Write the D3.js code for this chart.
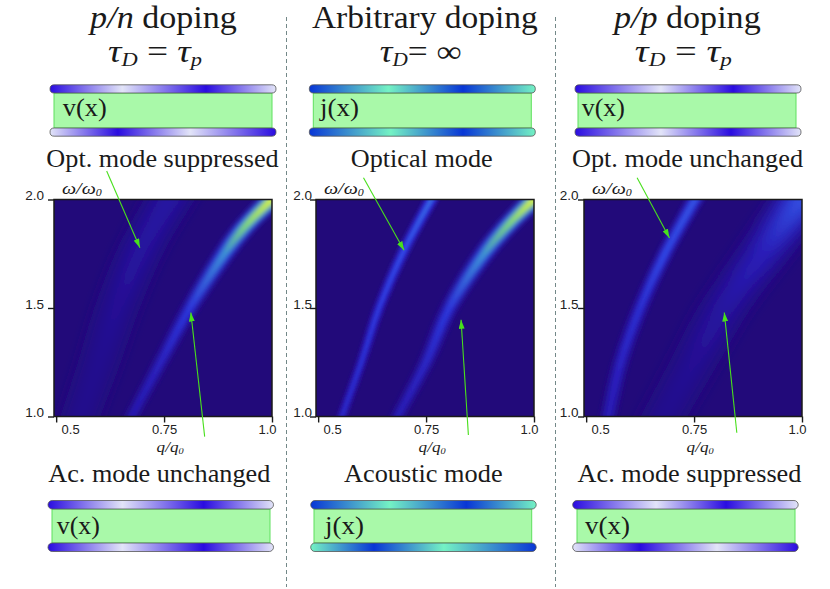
<!DOCTYPE html>
<html>
<head>
<meta charset="utf-8">
<script src="https://cdn.jsdelivr.net/npm/d3@7"></script>
<style>
  body { margin: 0; background: #fff; }
  svg { display: block; }
</style>
</head>
<body>
<div id="chart"></div>
<script>
// ---- values ----
const qTicks = [0.5, 0.75, 1.0];
const qTickLabels = ["0.5", "0.75", "1.0"];
const wTicks = [1.0, 1.5, 2.0];
const wTickLabels = ["1.0", "1.5", "2.0"];

// ridge of each branch: [q/q0, w/w0, peak intensity (0..1), half width in q/q0]
const pnOptical = [[0.556, 1.0, 0.07, 0.03], [0.60, 1.25, 0.08, 0.032], [0.641, 1.5, 0.1, 0.034], [0.697, 1.77, 0.14, 0.036], [0.762, 2.0, 0.15, 0.038]];
const pnAcoustic = [[0.675, 1.0, 0.22, 0.011], [0.742, 1.25, 0.28, 0.012], [0.81, 1.5, 0.38, 0.014], [0.89, 1.75, 0.6, 0.017], [0.94, 1.88, 0.82, 0.019], [1.0, 2.0, 1.0, 0.021]];
const arbOptical = [[0.555, 1.0, 0.28, 0.009], [0.60, 1.25, 0.32, 0.009], [0.641, 1.5, 0.36, 0.01], [0.70, 1.77, 0.42, 0.011], [0.762, 2.0, 0.48, 0.012]];
const arbAcoustic = [[0.684, 1.0, 0.24, 0.011], [0.75, 1.25, 0.3, 0.012], [0.804, 1.5, 0.38, 0.014], [0.881, 1.74, 0.6, 0.017], [0.944, 1.89, 0.82, 0.019], [1.0, 2.0, 1.0, 0.021]];
const ppOptical = [[0.551, 1.0, 0.22, 0.013], [0.58, 1.25, 0.27, 0.013], [0.625, 1.5, 0.33, 0.013], [0.68, 1.74, 0.42, 0.013], [0.752, 2.0, 0.45, 0.014]];
const ppAcoustic = [[0.68, 1.0, 0.08, 0.035], [0.75, 1.25, 0.1, 0.037], [0.82, 1.5, 0.15, 0.04], [0.91, 1.75, 0.24, 0.043], [1.0, 2.0, 0.45, 0.045]];

// arrows: [tail q, tail w, tip q, tip w]
const upperArrows = [[0.617, 2.131, 0.694, 1.778], [0.605, 2.100, 0.699, 1.766], [0.618, 2.100, 0.693, 1.823]];
const lowerArrows = [[0.844, 0.907, 0.812, 1.479], [0.848, 0.915, 0.831, 1.446], [0.849, 0.925, 0.820, 1.479]];

const titleLine1 = [
  [{ t: "p/n", it: true }, { t: " doping" }],
  [{ t: "Arbitrary doping" }],
  [{ t: "p/p", it: true }, { t: " doping" }],
];
const titleLine2 = [
  [{ t: "τ", it: true }, { t: "D", sub: true }, { t: " = " }, { t: "τ", it: true }, { t: "p", sub: true }],
  [{ t: "τ", it: true }, { t: "D", sub: true }, { t: "= ∞" }],
  [{ t: "τ", it: true }, { t: "D", sub: true }, { t: " = " }, { t: "τ", it: true }, { t: "p", sub: true }],
];
const topModeLabels = ["Opt. mode suppressed", "Optical mode", "Opt. mode unchanged"];
const bottomModeLabels = ["Ac. mode unchanged", "Acoustic mode", "Ac. mode suppressed"];
const barLabels = ["v(x)", "j(x)", "v(x)"];

// plate modulation profiles: [position along plate, darkness]
const topBarPlates = [
  { upper: [[0, 1], [0.32, 0], [0.69, 1], [1, 0]], lower: [[0, 0], [0.30, 1], [0.62, 0], [1, 1]] },
  { upper: [[0, 1], [0.35, 0], [0.68, 1], [1, 0]], lower: [[0, 1], [0.36, 0], [0.68, 1], [1, 0]] },
  { upper: [[0, 1], [0.38, 0], [0.70, 1], [1, 0]], lower: [[0, 1], [0.38, 0], [0.69, 1], [1, 0]] },
];
const bottomBarPlates = [
  { upper: [[0, 1], [0.33, 0], [0.69, 1], [1, 0]], lower: [[0, 1], [0.33, 0], [0.69, 1], [1, 0]] },
  { upper: [[0, 1], [0.35, 0], [0.69, 1], [1, 0]], lower: [[0, 0], [0.28, 1], [0.59, 0], [1, 1]] },
  { upper: [[0, 1], [0.37, 0], [0.68, 1], [1, 0]], lower: [[0, 0], [0.30, 1], [0.64, 0], [1, 1]] },
];

// ---- layout ----
const width = 830, height = 589;
const serif = "Liberation Serif, Times New Roman, Times, serif";
const sans = "Liberation Sans, Arial, Helvetica, sans-serif";
const plotW = 218, plotTop = 199.5, plotBottom = 416.5;
const panels = [
  { x0: 54, bands: [pnOptical, pnAcoustic], yLabelGap: 10, plateFamily: "v",
    title: { cx: 163.5, w1: 149, cx2: 155, w2: 94 }, topMode: { cx: 162.5, w: 233 }, botMode: { cx: 159.3, w: 222.7 },
    topBar: { px: 50, pw: 226, gx: 54, gw: 218, lx: 62.7, lw: 44 }, botBar: { px: 48, pw: 225.5, gx: 52, gw: 218, lx: 56.7, lw: 43.3 } },
  { x0: 316, bands: [arbOptical, arbAcoustic], yLabelGap: 4, plateFamily: "j",
    title: { cx: 424.8, w1: 226, cx2: 420.8, w2: 82 }, topMode: { cx: 421.7, w: 142 }, botMode: { cx: 423.3, w: 158.7 },
    topBar: { px: 309.3, pw: 226, gx: 313.3, gw: 218, lx: 320, lw: 40 }, botBar: { px: 310.7, pw: 225.5, gx: 314, gw: 217.7, lx: 325, lw: 40 } },
  { x0: 584, bands: [ppAcoustic, ppOptical], yLabelGap: 5.5, plateFamily: "v",
    title: { cx: 687.3, w1: 149, cx2: 683.3, w2: 97 }, topMode: { cx: 687.5, w: 231.6 }, botMode: { cx: 689.5, w: 224.4 },
    topBar: { px: 575, pw: 226, gx: 578, gw: 218, lx: 581.7, lw: 43.3 }, botBar: { px: 572.7, pw: 225.5, gx: 577, gw: 218, lx: 585, lw: 45 } },
];
const qTickDx = [14, 0, -5];

const color = d3.scaleLinear()
  .domain([0, 0.2, 0.4, 0.6, 0.8, 1])
  .range(["#220a7a", "#2817b2", "#3042ea", "#3f9ed2", "#7fe064", "#eef821"])
  .clamp(true);

const plateColors = {
  v: d3.interpolateRgb("#e2e4f8", "#2a0ce0"),
  j: d3.interpolateRgb("#74f2c4", "#0836d6"),
};

const svg = d3.select("#chart").append("svg")
  .attr("width", width).attr("height", height)
  .attr("viewBox", [0, 0, width, height]);
const defs = svg.append("defs");

defs.append("marker")
  .attr("id", "arrowHead")
  .attr("markerUnits", "userSpaceOnUse")
  .attr("viewBox", "0 0 9 6")
  .attr("markerWidth", 9).attr("markerHeight", 6)
  .attr("refX", 9).attr("refY", 3)
  .attr("orient", "auto")
  .append("path").attr("d", "M0,0L9,3L0,6Z").attr("fill", "#48e01c");

function fitText(textSel, targetWidth) {
  const w = textSel.node().getBBox().width;
  textSel.attr("transform", `scale(${targetWidth / w},1)`);
}

function placeText(x, baseline, pieces, size, anchor, targetWidth) {
  const g = svg.append("g").attr("transform", `translate(${x},${baseline})`);
  const text = g.append("text")
    .attr("text-anchor", anchor)
    .attr("font-family", serif)
    .attr("font-size", size)
    .attr("fill", "#1a1a1a");
  let shifted = false;
  pieces.forEach((p) => {
    const ts = text.append("tspan").text(p.t);
    if (p.it) ts.attr("font-style", "italic");
    if (p.sub) {
      ts.attr("font-style", "italic").attr("font-size", size * 0.6).attr("dy", size * 0.15);
      shifted = true;
    } else if (shifted) {
      ts.attr("dy", -size * 0.15);
      shifted = false;
    }
  });
  fitText(text, targetWidth);
  return text;
}

function extendRidge(pts) {
  const a = pts[0], b = pts[1];
  const c = pts[pts.length - 1], d = pts[pts.length - 2];
  const ka = 0.08 / (b[1] - a[1]);
  const kc = 0.08 / (c[1] - d[1]);
  return [
    [a[0] - (b[0] - a[0]) * ka, a[1] - 0.08, a[2], a[3]],
    ...pts,
    [c[0] + (c[0] - d[0]) * kc, c[1] + 0.08, c[2], c[3]],
  ];
}

const bandLayers = [{ f: 0.3, s: 1.55 }, { f: 0.55, s: 1.1 }, { f: 0.8, s: 0.68 }, { f: 1.0, s: 0.35 }];

function drawBand(g, pts, x, y, id) {
  const ridge = extendRidge(pts);
  const y1 = y(ridge[0][1]), y2 = y(ridge[ridge.length - 1][1]);
  const pxPerQ = x(1) - x(0);
  const meanHw = d3.mean(pts, (p) => p[3]) * pxPerQ;

  defs.append("filter")
    .attr("id", `${id}-blur`)
    .attr("filterUnits", "userSpaceOnUse")
    .attr("x", x.range()[0] - 60).attr("y", plotTop - 60)
    .attr("width", plotW + 120).attr("height", plotBottom - plotTop + 120)
    .append("feGaussianBlur").attr("stdDeviation", Math.max(1.3, meanHw * 0.38));

  const band = g.append("g").attr("filter", `url(#${id}-blur)`);
  bandLayers.forEach((layer, li) => {
    const gid = `${id}-grad${li}`;
    const grad = defs.append("linearGradient")
      .attr("id", gid)
      .attr("gradientUnits", "userSpaceOnUse")
      .attr("x1", 0).attr("x2", 0).attr("y1", y1).attr("y2", y2);
    ridge.forEach((p) => grad.append("stop")
      .attr("offset", (y(p[1]) - y1) / (y2 - y1))
      .attr("stop-color", color(p[2] * layer.f)));

    const area = d3.area()
      .curve(d3.curveCatmullRom)
      .y((p) => y(p[1]))
      .x0((p) => x(p[0] - p[3] * layer.s))
      .x1((p) => x(p[0] + p[3] * layer.s));
    band.append("path").attr("d", area(ridge)).attr("fill", `url(#${gid})`);
  });
}

function drawPlate(x, yTop, w, h, profile, family, id) {
  const grad = defs.append("linearGradient").attr("id", id);
  profile.forEach((s) => grad.append("stop")
    .attr("offset", s[0])
    .attr("stop-color", plateColors[family](s[1])));
  svg.append("rect")
    .attr("x", x).attr("y", yTop)
    .attr("width", w).attr("height", h)
    .attr("rx", h / 2).attr("ry", h / 2)
    .attr("fill", `url(#${id})`)
    .attr("stroke", "#555").attr("stroke-width", 0.8);
}

function drawBar(bar, plates, family, label, yPlate1, yGreen, yGreenEnd, labelBaseline, id) {
  svg.append("rect")
    .attr("x", bar.gx).attr("y", yGreen)
    .attr("width", bar.gw).attr("height", yGreenEnd - yGreen)
    .attr("fill", "#a9f9a9")
    .attr("stroke", "#5ee05e").attr("stroke-width", 1);
  drawPlate(bar.px, yPlate1, bar.pw, yGreen - yPlate1, plates.upper, family, `${id}-u`);
  drawPlate(bar.px, yGreenEnd, bar.pw, yGreen - yPlate1, plates.lower, family, `${id}-l`);
  placeText(bar.lx, labelBaseline, [{ t: label }], 25, "start", bar.lw);
}

// separators
[286.5, 555.5].forEach((sx) => {
  svg.append("line")
    .attr("x1", sx).attr("x2", sx).attr("y1", 17).attr("y2", 587)
    .attr("stroke", "#738888").attr("stroke-width", 1)
    .attr("stroke-dasharray", "4,3");
});

panels.forEach((p, i) => {
  const x = d3.scaleLinear().domain([0.495, 1.0]).range([p.x0, p.x0 + plotW]);
  const y = d3.scaleLinear().domain([1.0, 2.0]).range([plotBottom, plotTop]);

  // titles and mode labels
  placeText(p.title.cx, 28, titleLine1[i], 31, "middle", p.title.w1);
  placeText(p.title.cx2, 61.5, titleLine2[i], 31, "middle", p.title.w2);
  placeText(p.topMode.cx, 166.5, [{ t: topModeLabels[i] }], 25, "middle", p.topMode.w);
  placeText(p.botMode.cx, 482, [{ t: bottomModeLabels[i] }], 25, "middle", p.botMode.w);

  // slab sketches
  drawBar(p.topBar, topBarPlates[i], p.plateFamily, barLabels[i], 84.8, 93, 128, 116, `top${i}`);
  drawBar(p.botBar, bottomBarPlates[i], p.plateFamily, barLabels[i], 500.5, 509, 543, 534, `bot${i}`);

  // heat map
  defs.append("clipPath").attr("id", `clip${i}`)
    .append("rect")
    .attr("x", p.x0).attr("y", plotTop)
    .attr("width", plotW).attr("height", plotBottom - plotTop);
  const plot = svg.append("g").attr("clip-path", `url(#clip${i})`);
  plot.append("rect")
    .attr("x", p.x0).attr("y", plotTop)
    .attr("width", plotW).attr("height", plotBottom - plotTop)
    .attr("fill", color(0));
  p.bands.forEach((b, bi) => drawBand(plot, b, x, y, `band${i}-${bi}`));

  // axes
  const yAxis = svg.append("g")
    .attr("transform", `translate(${p.x0},0)`)
    .call(d3.axisLeft(y).tickValues(wTicks)
      .tickFormat((d, k) => wTickLabels[k])
      .tickSize(6).tickSizeOuter(0).tickPadding(p.yLabelGap - 6));
  yAxis.select(".domain").remove();
  yAxis.selectAll("line").attr("stroke", "#1a1a1a").attr("stroke-width", 1.4);
  yAxis.selectAll("text")
    .attr("dy", "0.02em")
    .attr("font-family", sans).attr("font-size", 13.5).attr("fill", "#222");

  const xAxis = svg.append("g")
    .attr("transform", `translate(0,${plotBottom})`)
    .call(d3.axisBottom(x).tickValues(qTicks)
      .tickFormat((d, k) => qTickLabels[k])
      .tickSize(6).tickSizeOuter(0).tickPadding(2.5));
  xAxis.select(".domain").remove();
  xAxis.selectAll("line").attr("stroke", "#1a1a1a").attr("stroke-width", 1.4);
  xAxis.selectAll("text")
    .attr("dx", (d, k) => qTickDx[k])
    .attr("font-family", sans).attr("font-size", 13).attr("fill", "#222");

  svg.append("rect")
    .attr("x", p.x0).attr("y", plotTop)
    .attr("width", plotW).attr("height", plotBottom - plotTop)
    .attr("fill", "none").attr("stroke", "#1a1a1a").attr("stroke-width", 1.5);

  placeText(p.x0 + 8, 194, [{ t: "ω/ω", it: true }, { t: "0", sub: true }], 16, "start", 40);
  placeText(x(0.75) + 6, 451.5, [{ t: "q/q", it: true }, { t: "0", sub: true }], 14, "middle", 28);

  // arrows
  [upperArrows[i], lowerArrows[i]].forEach((a) => {
    svg.append("line")
      .attr("x1", x(a[0])).attr("y1", y(a[1]))
      .attr("x2", x(a[2])).attr("y2", y(a[3]))
      .attr("stroke", "#48e01c").attr("stroke-width", 1.1)
      .attr("marker-end", "url(#arrowHead)");
  });
});
</script>
</body>
</html>
